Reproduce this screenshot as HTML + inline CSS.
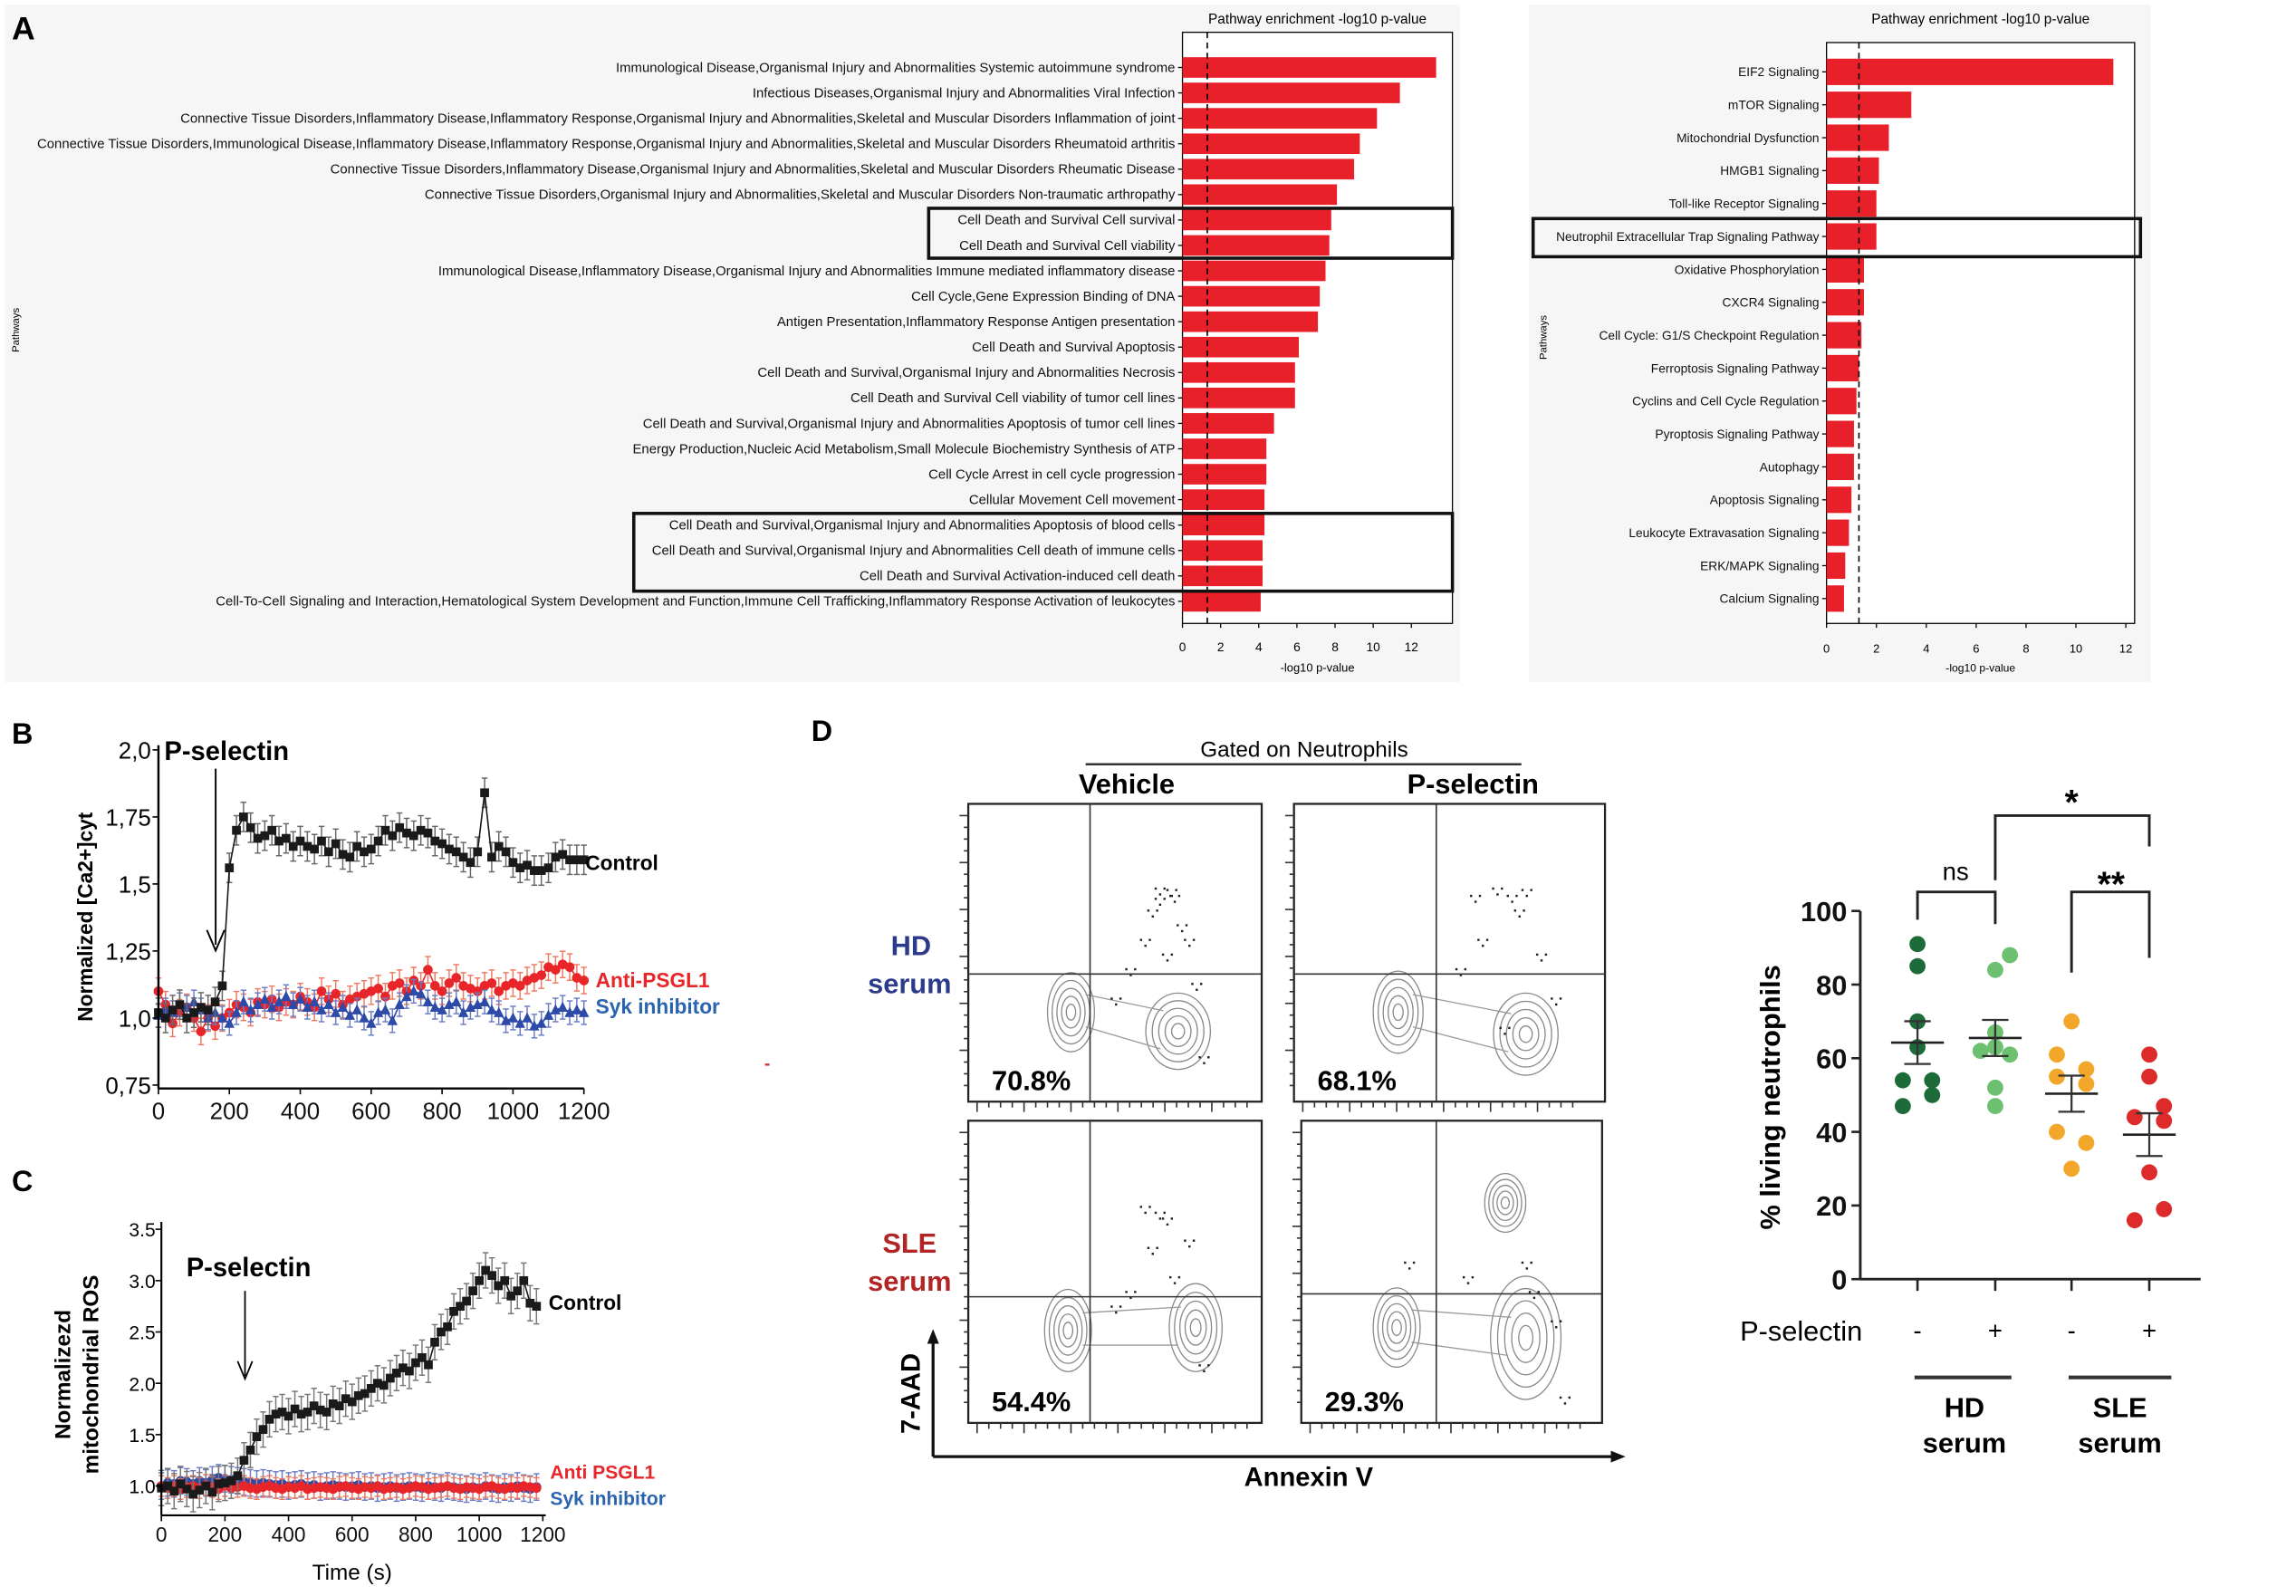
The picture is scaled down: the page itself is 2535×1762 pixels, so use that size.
<!DOCTYPE html>
<html><head><meta charset="utf-8"><style>
html,body{margin:0;padding:0;background:#fff;}
svg{display:block;}
.n{font-family:"Liberation Sans Narrow","Liberation Sans",sans-serif;}
.b{font-family:"Liberation Sans",sans-serif;font-weight:bold;}
</style></head><body>
<svg id="fig" xmlns="http://www.w3.org/2000/svg" width="2535" height="1762" viewBox="0 0 1565 1088" preserveAspectRatio="none">
<rect x="3" y="3" width="992" height="462" fill="#f6f6f6"/>
<rect x="1042" y="3" width="424" height="462" fill="#f6f6f6"/>
<text x="8" y="27" class="b" font-size="22">A</text>
<text x="8" y="507" class="b" font-size="20">B</text>
<text x="8" y="812" class="b" font-size="20">C</text>
<text x="553" y="505" class="b" font-size="20">D</text>
<g id="gA"></g>
<g id="gA2"></g>
<g id="gB"></g>
<g id="gC"></g>
<g id="gD"></g>
<g id="gE"></g>
</svg>
<script>
const leftLabels=["Immunological Disease,Organismal Injury and Abnormalities Systemic autoimmune syndrome","Infectious Diseases,Organismal Injury and Abnormalities Viral Infection","Connective Tissue Disorders,Inflammatory Disease,Inflammatory Response,Organismal Injury and Abnormalities,Skeletal and Muscular Disorders Inflammation of joint","Connective Tissue Disorders,Immunological Disease,Inflammatory Disease,Inflammatory Response,Organismal Injury and Abnormalities,Skeletal and Muscular Disorders Rheumatoid arthritis","Connective Tissue Disorders,Inflammatory Disease,Organismal Injury and Abnormalities,Skeletal and Muscular Disorders Rheumatic Disease","Connective Tissue Disorders,Organismal Injury and Abnormalities,Skeletal and Muscular Disorders Non-traumatic arthropathy","Cell Death and Survival Cell survival","Cell Death and Survival Cell viability","Immunological Disease,Inflammatory Disease,Organismal Injury and Abnormalities Immune mediated inflammatory disease","Cell Cycle,Gene Expression Binding of DNA","Antigen Presentation,Inflammatory Response Antigen presentation","Cell Death and Survival Apoptosis","Cell Death and Survival,Organismal Injury and Abnormalities Necrosis","Cell Death and Survival Cell viability of tumor cell lines","Cell Death and Survival,Organismal Injury and Abnormalities Apoptosis of tumor cell lines","Energy Production,Nucleic Acid Metabolism,Small Molecule Biochemistry Synthesis of ATP","Cell Cycle Arrest in cell cycle progression","Cellular Movement Cell movement","Cell Death and Survival,Organismal Injury and Abnormalities Apoptosis of blood cells","Cell Death and Survival,Organismal Injury and Abnormalities Cell death of immune cells","Cell Death and Survival Activation-induced cell death","Cell-To-Cell Signaling and Interaction,Hematological System Development and Function,Immune Cell Trafficking,Inflammatory Response Activation of leukocytes"];
const leftValues=[13.3,11.4,10.2,9.3,9.0,8.1,7.8,7.7,7.5,7.2,7.1,6.1,5.9,5.9,4.8,4.4,4.4,4.3,4.3,4.2,4.2,4.1];
const rightLabels=["EIF2 Signaling","mTOR Signaling","Mitochondrial Dysfunction","HMGB1 Signaling","Toll-like Receptor Signaling","Neutrophil Extracellular Trap Signaling Pathway","Oxidative Phosphorylation","CXCR4 Signaling","Cell Cycle: G1/S Checkpoint Regulation","Ferroptosis Signaling Pathway","Cyclins and Cell Cycle Regulation","Pyroptosis Signaling Pathway","Autophagy","Apoptosis Signaling","Leukocyte Extravasation Signaling","ERK/MAPK Signaling","Calcium Signaling"];
const rightValues=[11.5,3.4,2.5,2.1,2.0,2.0,1.5,1.5,1.4,1.3,1.2,1.1,1.1,1.0,0.9,0.75,0.7];
const xTicksA=[0,2,4,6,8,10,12];
const threshold=1.3;
const timeB=[0,20,40,60,80,100,120,140,160,180,200,220,240,260,280,300,320,340,360,380,400,420,440,460,480,500,520,540,560,580,600,620,640,660,680,700,720,740,760,780,800,820,840,860,880,900,920,940,960,980,1000,1020,1040,1060,1080,1100,1120,1140,1160,1180,1200];
const controlB=[1.02,1.0,1.03,1.05,1.0,1.02,1.04,1.03,1.06,1.12,1.56,1.70,1.75,1.71,1.67,1.68,1.70,1.66,1.67,1.64,1.66,1.64,1.63,1.66,1.62,1.65,1.61,1.60,1.64,1.62,1.63,1.66,1.70,1.68,1.71,1.69,1.68,1.70,1.69,1.66,1.65,1.63,1.62,1.60,1.58,1.62,1.84,1.60,1.64,1.62,1.58,1.56,1.57,1.55,1.55,1.56,1.60,1.61,1.59,1.59,1.59];
const psglB=[1.10,1.05,0.98,1.02,1.04,1.0,0.95,1.0,0.97,1.0,1.02,1.05,1.04,1.02,1.06,1.05,1.07,1.04,1.06,1.05,1.08,1.06,1.04,1.10,1.07,1.09,1.05,1.07,1.08,1.09,1.10,1.11,1.08,1.12,1.13,1.10,1.14,1.12,1.18,1.12,1.10,1.13,1.15,1.12,1.11,1.10,1.12,1.13,1.10,1.12,1.13,1.12,1.14,1.15,1.16,1.19,1.18,1.20,1.19,1.15,1.14];
const sykB=[1.01,1.03,1.02,1.05,1.04,1.06,1.03,1.0,1.02,1.0,0.98,1.02,1.06,1.03,1.05,1.07,1.04,1.06,1.08,1.05,1.07,1.04,1.06,1.03,1.05,1.02,1.04,1.01,1.03,1.00,0.98,1.02,1.03,0.99,1.05,1.08,1.10,1.09,1.06,1.04,1.03,1.05,1.06,1.02,1.04,1.05,1.06,1.03,1.02,0.99,1.0,0.98,1.0,0.97,0.98,1.01,1.03,1.04,1.02,1.03,1.02];
const yTicksB=[0.75,1.0,1.25,1.5,1.75,2.0];
const yTickLabelsB=["0,75","1,0","1,25","1,5","1,75","2,0"];
const xTicksB=[0,200,400,600,800,1000,1200];
const timeC=[0,20,40,60,80,100,120,140,160,180,200,220,240,260,280,300,320,340,360,380,400,420,440,460,480,500,520,540,560,580,600,620,640,660,680,700,720,740,760,780,800,820,840,860,880,900,920,940,960,980,1000,1020,1040,1060,1080,1100,1120,1140,1160,1180];
const controlC=[0.98,1.0,0.95,1.02,0.97,0.92,0.96,1.0,0.94,1.02,1.03,1.05,1.1,1.25,1.35,1.48,1.55,1.65,1.7,1.72,1.68,1.75,1.7,1.72,1.78,1.74,1.72,1.8,1.78,1.85,1.82,1.88,1.9,1.95,2.0,1.98,2.05,2.1,2.15,2.12,2.2,2.25,2.18,2.4,2.5,2.55,2.7,2.75,2.8,2.9,3.0,3.1,3.05,2.95,3.0,2.85,2.9,3.0,2.78,2.75];
const psglC=[1.0,0.98,1.0,0.97,0.99,1.0,0.98,1.01,0.99,0.97,1.0,0.98,0.99,1.0,0.98,0.97,0.99,1.0,0.98,0.97,0.99,0.98,1.0,0.97,0.98,0.99,0.98,0.97,0.99,1.0,0.98,0.97,0.99,0.98,1.0,0.97,0.98,0.99,0.97,0.98,1.0,0.99,0.97,0.98,0.99,1.0,0.98,0.97,0.99,0.98,0.97,0.99,1.0,0.98,0.97,0.99,0.98,1.0,0.99,0.98];
const sykC=[1.0,1.03,1.02,1.05,1.04,1.02,1.05,1.03,1.06,1.08,1.07,1.06,1.05,1.04,1.03,1.02,1.03,1.02,1.01,1.02,1.0,1.01,1.02,1.0,1.01,0.99,1.0,1.01,1.0,0.99,1.0,1.01,0.99,1.0,0.98,0.99,1.0,0.98,0.99,1.0,0.99,0.98,1.0,0.99,0.98,1.0,0.99,0.98,0.97,0.99,0.98,1.0,0.98,0.97,0.99,0.98,1.0,0.98,0.97,0.99];
const yTicksC=[1.0,1.5,2.0,2.5,3.0,3.5];
const xTicksC=[0,200,400,600,800,1000,1200];
const groupNames=["HD-","HD+","SLE-","SLE+"];
const hdMinus=[91,85,70,63,54,54,50,47];
const hdPlus=[88,84,67,63,62,61,52,47];
const sleMinus=[70,61,57,55,53,40,37,30];
const slePlus=[61,55,47,44,43,29,19,16];
const semValues=[5.8,4.9,4.9,5.8];
const yTicksE=[0,20,40,60,80,100];
const flowPercents=["70.8%","68.1%","54.4%","29.3%"];

const NS="http://www.w3.org/2000/svg";
function mk(parent,tag,attrs,txt){const e=document.createElementNS(NS,tag);for(const k in attrs)e.setAttribute(k,attrs[k]);if(txt!==undefined)e.textContent=txt;parent.appendChild(e);return e;}

(function(){
const g=document.getElementById('gA');
const x0=806,ppu=13.0,top=22,bot=425,y0=46,dy=17.33,bh=14;
const sx=v=>x0+v*ppu;
mk(g,'text',{x:898,y:16,'font-size':9.5,'text-anchor':'middle',class:'n'},'Pathway enrichment -log10 p-value');
mk(g,'rect',{x:x0,y:top,width:184,height:bot-top,fill:'#fff',stroke:'#000','stroke-width':0.8});
leftValues.forEach((v,i)=>{
 const cy=y0+i*dy;
 const r=mk(g,'rect',{x:x0,y:cy-bh/2,width:sx(v)-x0,height:bh,fill:'#e8202a'});
 
 
 const t=mk(g,'text',{x:801,y:cy+3,'font-size':9.2,'text-anchor':'end',class:'n',fill:'#111'},leftLabels[i]);
 
 
 mk(g,'line',{x1:x0-3,x2:x0,y1:cy,y2:cy,stroke:'#000','stroke-width':0.8});
});
mk(g,'line',{x1:sx(threshold),x2:sx(threshold),y1:top,y2:bot,stroke:'#000','stroke-width':1,'stroke-dasharray':'4,3'});
xTicksA.forEach(v=>{mk(g,'line',{x1:sx(v),x2:sx(v),y1:bot,y2:bot+3,stroke:'#000','stroke-width':0.8});
 const t=mk(g,'text',{x:sx(v),y:bot+19,'font-size':8.5,'text-anchor':'middle',class:'n'},String(v));
 });
mk(g,'text',{x:898,y:458,'font-size':8,'text-anchor':'middle',class:'n'},'-log10 p-value');
mk(g,'text',{x:13,y:225,'font-size':7,'text-anchor':'middle',class:'n',transform:'rotate(-90 13 225)'},'Pathways');
mk(g,'rect',{x:633,y:142,width:357,height:34,fill:'none',stroke:'#111','stroke-width':2.2});
mk(g,'rect',{x:432,y:350,width:558,height:53,fill:'none',stroke:'#111','stroke-width':2.2});
})();

(function(){
const g=document.getElementById('gA2');
const x0=1245,ppu=17.0,top=29,bot=425,y0=49,dy=22.44,bh=18;
const sx=v=>x0+v*ppu;
mk(g,'text',{x:1350,y:16,'font-size':9.5,'text-anchor':'middle',class:'n'},'Pathway enrichment -log10 p-value');
mk(g,'rect',{x:x0,y:top,width:210,height:bot-top,fill:'#fff',stroke:'#000','stroke-width':0.8});
rightValues.forEach((v,i)=>{
 const cy=y0+i*dy;
 const r=mk(g,'rect',{x:x0,y:cy-bh/2,width:sx(v)-x0,height:bh,fill:'#e8202a'});
 
 
 const t=mk(g,'text',{x:1240,y:cy+3,'font-size':8.5,'text-anchor':'end',class:'n',fill:'#111'},rightLabels[i]);
 
 
 mk(g,'line',{x1:x0-3,x2:x0,y1:cy,y2:cy,stroke:'#000','stroke-width':0.8});
});
mk(g,'line',{x1:sx(threshold),x2:sx(threshold),y1:top,y2:bot,stroke:'#000','stroke-width':1,'stroke-dasharray':'4,3'});
xTicksA.forEach(v=>{mk(g,'line',{x1:sx(v),x2:sx(v),y1:bot,y2:bot+3,stroke:'#000','stroke-width':0.8});
 const t=mk(g,'text',{x:sx(v),y:bot+20,'font-size':8,'text-anchor':'middle',class:'n'},String(v));
 });
mk(g,'text',{x:1350,y:458,'font-size':7.5,'text-anchor':'middle',class:'n'},'-log10 p-value');
mk(g,'text',{x:1054,y:230,'font-size':7,'text-anchor':'middle',class:'n',transform:'rotate(-90 1054 230)'},'Pathways');
mk(g,'rect',{x:1045,y:149,width:414,height:26,fill:'none',stroke:'#111','stroke-width':2.2});
})();

function series(g,t,vals,sx,sy,color,ecolor,shape,err,name){
 const pts=t.map((tt,i)=>[sx(tt),sy(vals[i])]).filter((p,i)=>vals[i]!==undefined);
 pts.forEach(p=>{mk(g,'line',{x1:p[0],x2:p[0],y1:p[1]-err,y2:p[1]+err,stroke:ecolor,'stroke-width':0.9});
  mk(g,'line',{x1:p[0]-2,x2:p[0]+2,y1:p[1]-err,y2:p[1]-err,stroke:ecolor,'stroke-width':0.9});
  mk(g,'line',{x1:p[0]-2,x2:p[0]+2,y1:p[1]+err,y2:p[1]+err,stroke:ecolor,'stroke-width':0.9});});
 const pl=mk(g,'polyline',{points:pts.map(p=>p.join(',')).join(' '),fill:'none',stroke:color,'stroke-width':1});
 
 
 pts.forEach(p=>{let m;
  if(shape==='sq')m=mk(g,'rect',{x:p[0]-3,y:p[1]-3,width:6,height:6,fill:color});
  else if(shape==='tri')m=mk(g,'polygon',{points:`${p[0]},${p[1]-4} ${p[0]-3.5},${p[1]+3} ${p[0]+3.5},${p[1]+3}`,fill:color});
  else m=mk(g,'circle',{cx:p[0],cy:p[1],r:3.3,fill:color});
  
  });
}

(function(){
const g=document.getElementById('gB');
const sx=v=>108+v*(290/1200);
const sy=v=>694-(v-1)*(45.7/0.25);
series(g,timeB,psglB,sx,sy,'#e8262a','#f07a60','circ',9,'anti-psgl1');
series(g,timeB,sykB,sx,sy,'#2d4aa8','#6a7cc4','tri',8,'syk-inhibitor');
series(g,timeB,controlB,sx,sy,'#1a1a1a','#666','sq',10,'control');
mk(g,'line',{x1:108,x2:108,y1:508,y2:742,stroke:'#000','stroke-width':1.5});
mk(g,'line',{x1:108,x2:398,y1:742,y2:742,stroke:'#000','stroke-width':1.5});
yTicksB.forEach((v,i)=>{mk(g,'line',{x1:104,x2:108,y1:sy(v),y2:sy(v),stroke:'#000'});
 const t=mk(g,'text',{x:103,y:sy(v)+6,'font-size':16,'text-anchor':'end',class:'n'},yTickLabelsB[i]);
 });
xTicksB.forEach(v=>{mk(g,'line',{x1:sx(v),x2:sx(v),y1:742,y2:746,stroke:'#000'});
 const t=mk(g,'text',{x:sx(v),y:763,'font-size':16,'text-anchor':'middle',class:'n',fill:'#111'},String(v));
 });
mk(g,'text',{x:63,y:625,'font-size':14,'text-anchor':'middle',class:'b',transform:'rotate(-90 63 625)'},'Normalized [Ca2+]cyt');
mk(g,'text',{x:112,y:518,'font-size':18,class:'b'},'P-selectin');
mk(g,'line',{x1:147,x2:147,y1:524,y2:644,stroke:'#000','stroke-width':1.2});
mk(g,'path',{d:'M141,634 L147,648 L153,634',fill:'none',stroke:'#000','stroke-width':1.2});
mk(g,'text',{x:399,y:593,'font-size':14,class:'b'},'Control');
mk(g,'text',{x:406,y:673,'font-size':14,class:'b',fill:'#e8262a'},'Anti-PSGL1');
mk(g,'text',{x:406,y:691,'font-size':14,class:'b',fill:'#2a64b0'},'Syk inhibitor');
mk(g,'text',{x:521,y:729,'font-size':12,fill:'#c33',class:'b'},'-');
})();

(function(){
const g=document.getElementById('gC');
const sx=v=>110+v*(260/1200);
const sy=v=>1013-(v-1)*70;
series(g,timeC,sykC,sx,sy,'#2d4aa8','#6a7cc4','circ',9,'syk-inhibitor-ros');
series(g,timeC,psglC,sx,sy,'#e8262a','#f07a60','circ',7,'anti-psgl1-ros');
series(g,timeC,controlC,sx,sy,'#1a1a1a','#777','sq',12,'control-ros');
mk(g,'line',{x1:110,x2:110,y1:833,y2:1033,stroke:'#000','stroke-width':1.3});
mk(g,'line',{x1:110,x2:372,y1:1033,y2:1033,stroke:'#000','stroke-width':1.3});
yTicksC.forEach(v=>{mk(g,'line',{x1:106,x2:110,y1:sy(v),y2:sy(v),stroke:'#000'});
 const t=mk(g,'text',{x:106,y:sy(v)+5,'font-size':13,'text-anchor':'end',class:'n'},v.toFixed(1));
 });
xTicksC.forEach(v=>{mk(g,'line',{x1:sx(v),x2:sx(v),y1:1033,y2:1037,stroke:'#000'});
 const t=mk(g,'text',{x:sx(v),y:1051,'font-size':14,'text-anchor':'middle',class:'n',fill:'#111'},String(v));
 });
mk(g,'text',{x:48,y:937,'font-size':15,'text-anchor':'middle',class:'b',transform:'rotate(-90 48 937)'},'Normalizezd');
mk(g,'text',{x:67,y:937,'font-size':15,'text-anchor':'middle',class:'b',transform:'rotate(-90 67 937)'},'mitochondrial ROS');
mk(g,'text',{x:240,y:1077,'font-size':15,'text-anchor':'middle',class:'n'},'Time (s)');
mk(g,'text',{x:127,y:870,'font-size':18,class:'b'},'P-selectin');
mk(g,'line',{x1:167,x2:167,y1:880,y2:938,stroke:'#000','stroke-width':1.1});
mk(g,'path',{d:'M162,928 L167,940 L172,928',fill:'none',stroke:'#000','stroke-width':1.1});
mk(g,'text',{x:374,y:893,'font-size':14,class:'b'},'Control');
mk(g,'text',{x:375,y:1008,'font-size':13,class:'b',fill:'#e8262a'},'Anti PSGL1');
mk(g,'text',{x:375,y:1026,'font-size':13,class:'b',fill:'#2a64b0'},'Syk inhibitor');
})();

(function(){
const g=document.getElementById('gD');
mk(g,'text',{x:889,y:516,'font-size':15,'text-anchor':'middle',class:'n'},'Gated on Neutrophils');
mk(g,'line',{x1:740,x2:1037,y1:521,y2:521,stroke:'#333','stroke-width':1.5});
mk(g,'text',{x:768,y:541,'font-size':19,'text-anchor':'middle',class:'b'},'Vehicle');
mk(g,'text',{x:1004,y:541,'font-size':19,'text-anchor':'middle',class:'b'},'P-selectin');
mk(g,'text',{x:621,y:651,'font-size':19,'text-anchor':'middle',class:'b',fill:'#2c3a8c'},'HD');
mk(g,'text',{x:620,y:677,'font-size':19,'text-anchor':'middle',class:'b',fill:'#2c3a8c'},'serum');
mk(g,'text',{x:620,y:854,'font-size':19,'text-anchor':'middle',class:'b',fill:'#b32424'},'SLE');
mk(g,'text',{x:620,y:880,'font-size':19,'text-anchor':'middle',class:'b',fill:'#b32424'},'serum');
const boxes=[[660,548,200,203,743,664],[882,548,212,203,979,664],[660,764,200,206,743,884],[887,764,205,206,979,882]];
const blobs=[[[730,690,16,27],[803,703,22,26]],[[953,690,17,28],[1040,705,22,28]],[[728,907,16,28],[815,905,18,30]],[[952,905,16,27],[1040,912,24,42],[1026,820,14,20]]];
const dots=[[[790,605],[800,610],[785,620],[810,640],[795,650],[770,660],[805,630],[780,640],[815,670],[760,680],[820,720],[790,612],[798,606]],
[[1020,605],[1030,610],[1040,606],[1010,640],[1050,650],[995,660],[1060,680],[1035,620],[1005,610],[1025,700]],
[[780,822],[795,830],[785,850],[800,870],[770,880],[810,845],[760,890],[820,930],[790,826]],
[[1040,860],[1045,880],[1000,870],[1060,900],[960,860],[1066,952]]];
boxes.forEach((b,i)=>{
 const gg=mk(g,'g',{});
 
 
 mk(gg,'rect',{x:b[0],y:b[1],width:b[2],height:b[3],fill:'#fff',stroke:'#222','stroke-width':1.4});
 for(let k=0;k<24;k++){mk(gg,'line',{x1:b[0]+6+k*8,x2:b[0]+6+k*8,y1:b[1]+b[3],y2:b[1]+b[3]+(k%4?4:7),stroke:'#333'});
  mk(gg,'line',{x1:b[0],x2:b[0]-(k%4?3:6),y1:b[1]+8+k*8,y2:b[1]+8+k*8,stroke:'#333'});}
 blobs[i].forEach(bl=>{for(let r=1;r<=5;r++)mk(gg,'ellipse',{cx:bl[0],cy:bl[1],rx:bl[2]*r/5,ry:bl[3]*r/5,fill:'none',stroke:'#888','stroke-width':0.8});});
 mk(gg,'path',{d:`M${blobs[i][0][0]+10},${blobs[i][0][1]-12} L${blobs[i][1][0]-10},${blobs[i][1][1]-14} M${blobs[i][0][0]+10},${blobs[i][0][1]+10} L${blobs[i][1][0]-12},${blobs[i][1][1]+12}`,stroke:'#999',fill:'none','stroke-width':0.8});
 dots[i].forEach(d=>{for(let k=0;k<3;k++)mk(gg,'rect',{x:d[0]+k*3-3,y:d[1]+(k%2)*4,width:1.5,height:1.5,fill:'#222'});});
 mk(gg,'line',{x1:b[4],x2:b[4],y1:b[1],y2:b[1]+b[3],stroke:'#333','stroke-width':1});
 mk(gg,'line',{x1:b[0],x2:b[0]+b[2],y1:b[5],y2:b[5],stroke:'#333','stroke-width':1});
 const t=mk(gg,'text',{x:b[0]+16,y:b[1]+b[3]-8,'font-size':19,class:'b'},flowPercents[i]);
 
 
});
mk(g,'line',{x1:636,x2:636,y1:993,y2:912,stroke:'#111','stroke-width':2});
mk(g,'path',{d:'M632,916 L636,906 L640,916 Z',fill:'#111'});
mk(g,'line',{x1:636,x2:1102,y1:993,y2:993,stroke:'#111','stroke-width':2});
mk(g,'path',{d:'M1098,989 L1108,993 L1098,997 Z',fill:'#111'});
mk(g,'text',{x:627,y:950,'font-size':18,'text-anchor':'middle',class:'b',transform:'rotate(-90 627 950)'},'7-AAD');
mk(g,'text',{x:892,y:1013,'font-size':18,'text-anchor':'middle',class:'b'},'Annexin V');
})();

(function(){
const g=document.getElementById('gE');
const x0=1268,sy=v=>872-v*2.51;
const gx=[1307,1360,1412,1465];
const cols=['#1e6b3a','#6cc070','#f2a72b','#dd2a2a'];
const offs=[[0,0,0,0,-10,10,10,-10],[10,0,0,0,-10,10,0,0],[0,-10,10,-10,10,-10,10,0],[0,0,10,-10,10,0,10,-10]];
[hdMinus,hdPlus,sleMinus,slePlus].forEach((arr,gi)=>{
 arr.forEach((v,i)=>{const c=mk(g,'circle',{cx:gx[gi]+offs[gi][i],cy:sy(v),r:5.5,fill:cols[gi]});
  
  });
 const m=arr.reduce((a,b)=>a+b,0)/arr.length,s=semValues[gi];
 mk(g,'line',{x1:gx[gi]-18,x2:gx[gi]+18,y1:sy(m),y2:sy(m),stroke:'#222','stroke-width':1.6});
 mk(g,'line',{x1:gx[gi],x2:gx[gi],y1:sy(m-s),y2:sy(m+s),stroke:'#333','stroke-width':1.4});
 mk(g,'line',{x1:gx[gi]-9,x2:gx[gi]+9,y1:sy(m-s),y2:sy(m-s),stroke:'#333','stroke-width':1.4});
 mk(g,'line',{x1:gx[gi]-9,x2:gx[gi]+9,y1:sy(m+s),y2:sy(m+s),stroke:'#333','stroke-width':1.4});
 mk(g,'line',{x1:gx[gi],x2:gx[gi],y1:872,y2:880,stroke:'#222','stroke-width':1.6});
 const t=mk(g,'text',{x:gx[gi],y:913,'font-size':17,'text-anchor':'middle',class:'n'},gi%2?'+':'-');
 
});
mk(g,'line',{x1:x0,x2:x0,y1:sy(100),y2:872,stroke:'#222','stroke-width':1.8});
mk(g,'line',{x1:x0,x2:1500,y1:872,y2:872,stroke:'#222','stroke-width':1.8});
yTicksE.forEach(v=>{mk(g,'line',{x1:x0-6,x2:x0,y1:sy(v),y2:sy(v),stroke:'#222','stroke-width':1.6});
 const t=mk(g,'text',{x:x0-9,y:sy(v)+7,'font-size':19,'text-anchor':'end',class:'b',fill:'#111'},String(v));
 });
mk(g,'text',{x:1213,y:748,'font-size':19,'text-anchor':'middle',class:'b',transform:'rotate(-90 1213 748)'},'% living neutrophils');
mk(g,'path',{d:'M1307,627 V608 H1360 V630',fill:'none',stroke:'#222','stroke-width':1.8});
mk(g,'path',{d:'M1412,663 V608 H1465 V653',fill:'none',stroke:'#222','stroke-width':1.8});
mk(g,'path',{d:'M1360,600 V556 H1465 V577',fill:'none',stroke:'#222','stroke-width':1.8});
mk(g,'text',{x:1333,y:600,'font-size':17,'text-anchor':'middle',class:'n'},'ns');
mk(g,'text',{x:1439,y:611,'font-size':24,'text-anchor':'middle',class:'b'},'**');
mk(g,'text',{x:1412,y:555,'font-size':24,'text-anchor':'middle',class:'b'},'*');
mk(g,'text',{x:1186,y:914,'font-size':19,class:'n'},'P-selectin');
mk(g,'line',{x1:1305,x2:1371,y1:939,y2:939,stroke:'#333','stroke-width':2.5});
mk(g,'line',{x1:1410,x2:1480,y1:939,y2:939,stroke:'#333','stroke-width':2.5});
mk(g,'text',{x:1339,y:966,'font-size':19,'text-anchor':'middle',class:'b'},'HD');
mk(g,'text',{x:1339,y:990,'font-size':19,'text-anchor':'middle',class:'b'},'serum');
mk(g,'text',{x:1445,y:966,'font-size':19,'text-anchor':'middle',class:'b'},'SLE');
mk(g,'text',{x:1445,y:990,'font-size':19,'text-anchor':'middle',class:'b'},'serum');
})();
</script>
</body></html>
